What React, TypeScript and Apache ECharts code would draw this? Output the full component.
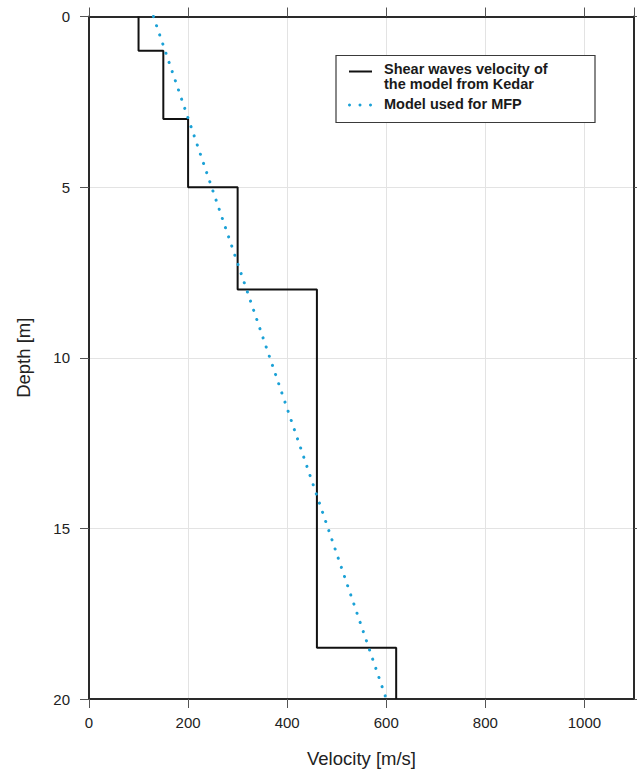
import React, { useEffect, useRef } from "react";
import * as echarts from "echarts";

// Shear-wave velocity model from Kedar (layered)
const layerTop: number[] = [0, 1, 3, 5, 8, 18.5];
const layerBottom: number[] = [1, 3, 5, 8, 18.5, 20];
const layerVelocity: number[] = [100, 150, 200, 300, 460, 620];

// Linear model used for MFP
const mfpDepth: number[] = [0, 20];
const mfpVelocity: number[] = [130, 600];

const kedarName = "Shear waves velocity of\nthe model from Kedar";
const mfpName = "Model used for MFP";
const xTitle = "Velocity [m/s]";
const yTitle = "Depth [m]";

const FONT = "'Liberation Sans', Arial, Helvetica, sans-serif";

export default function App() {
  const ref = useRef<HTMLDivElement>(null);

  useEffect(() => {
    if (!ref.current) return;
    const chart = echarts.init(ref.current, null, { renderer: "svg" });

    const kedarData: number[][] = [];
    layerVelocity.forEach((v, i) => {
      kedarData.push([v, layerTop[i]]);
      kedarData.push([v, layerBottom[i]]);
    });
    const mfpData = mfpDepth.map((d, i) => [mfpVelocity[i], d]);

    const frame = { show: true, onZero: false, lineStyle: { color: "#2a2a2a", width: 2 } };
    const ticks = { show: true, inside: false, length: 9, lineStyle: { color: "#555", width: 1 } };
    const grid = { show: true, lineStyle: { color: "#e3e3e3", width: 1 } };
    const label = { color: "#222", fontSize: 15, fontFamily: FONT, formatter: (v: number) => String(v) };

    const kedarLines = kedarName.split("\n");

    chart.setOption({
      animation: false,
      backgroundColor: "#fff",
      grid: { left: 89, right: 3, top: 16.5, bottom: 79, containLabel: false },
      xAxis: [
        {
          type: "value",
          position: "bottom",
          min: 0,
          max: 1100,
          interval: 200,
          name: xTitle,
          nameLocation: "middle",
          nameGap: 50,
          nameTextStyle: { color: "#222", fontSize: 18.5, fontFamily: FONT },
          axisLine: frame,
          axisTick: ticks,
          splitLine: grid,
          axisLabel: { ...label, margin: 16, showMaxLabel: false },
        },
        {
          type: "value",
          position: "top",
          min: 0,
          max: 1100,
          interval: 200,
          axisLine: frame,
          axisTick: ticks,
          splitLine: { show: false },
          axisLabel: { show: false },
        },
      ],
      yAxis: [
        {
          type: "value",
          position: "left",
          inverse: true,
          min: 0,
          max: 20,
          interval: 5,
          name: yTitle,
          nameLocation: "middle",
          nameGap: 56,
          nameRotate: 90,
          nameTextStyle: { color: "#222", fontSize: 18.5, fontFamily: FONT },
          axisLine: frame,
          axisTick: ticks,
          splitLine: grid,
          axisLabel: { ...label, margin: 19 },
        },
        {
          type: "value",
          position: "right",
          inverse: true,
          min: 0,
          max: 20,
          interval: 5,
          axisLine: frame,
          axisTick: ticks,
          splitLine: { show: false },
          axisLabel: { show: false },
        },
      ],
      series: [
        {
          name: kedarName,
          type: "line",
          xAxisIndex: 0,
          yAxisIndex: 0,
          data: kedarData,
          symbol: "none",
          lineStyle: { color: "#111", width: 2 },
          z: 3,
        },
        {
          name: mfpName,
          type: "line",
          xAxisIndex: 0,
          yAxisIndex: 0,
          data: mfpData,
          symbol: "none",
          lineStyle: { color: "#1ba1d6", width: 3, type: [0.1, 9.6], cap: "round" },
          z: 4,
        },
      ],
      graphic: [
        {
          type: "rect",
          shape: { x: 336, y: 55.5, width: 259, height: 67 },
          style: { fill: "#fff", stroke: "#3a3a3a", lineWidth: 1.2 },
          z: 10,
        },
        {
          type: "line",
          shape: { x1: 349, y1: 71.5, x2: 372, y2: 71.5 },
          style: { stroke: "#111", lineWidth: 2 },
          z: 11,
        },
        ...[349.5, 360, 370.5].map((cx) => ({
          type: "circle",
          shape: { cx, cy: 105, r: 1.5 },
          style: { fill: "#1ba1d6" },
          z: 11,
        })),
        {
          type: "text",
          x: 384,
          y: 68.6,
          style: { text: kedarLines[0], font: `bold 14.5px ${FONT}`, fill: "#1a1a1a", verticalAlign: "middle" },
          z: 11,
        },
        {
          type: "text",
          x: 384,
          y: 84.2,
          style: { text: kedarLines[1], font: `bold 14.5px ${FONT}`, fill: "#1a1a1a", verticalAlign: "middle" },
          z: 11,
        },
        {
          type: "text",
          x: 384,
          y: 104.1,
          style: { text: mfpName, font: `bold 14.5px ${FONT}`, fill: "#1a1a1a", verticalAlign: "middle" },
          z: 11,
        },
      ],
    });

    return () => chart.dispose();
  }, []);

  return <div ref={ref} style={{ width: 637, height: 778, position: "absolute", left: 0, top: 0 }} />;
}
